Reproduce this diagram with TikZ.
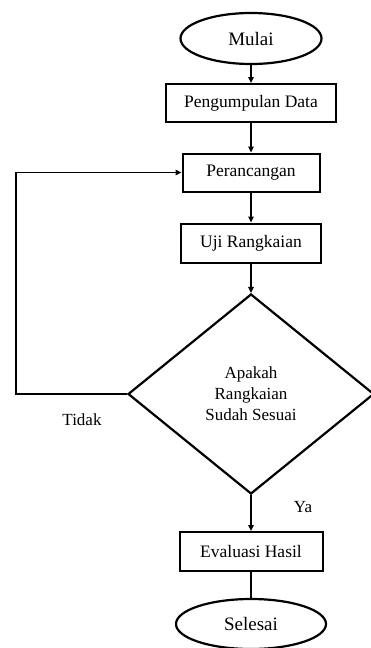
\documentclass[tikz,border=0pt]{standalone}
\usepackage{fontspec}
\setmainfont{Liberation Serif}
\usetikzlibrary{shapes.geometric,arrows.meta}
\begin{document}
\begin{tikzpicture}[x=1pt,y=-1pt,
  term/.style={draw,ellipse,line width=2.2pt,inner sep=0pt,font=\fontsize{19}{22}\selectfont},
  proc/.style={draw,rectangle,line width=2pt,inner sep=0pt,font=\fontsize{17.5}{21}\selectfont},
  dec/.style={draw,diamond,line width=2.2pt,inner sep=0pt,align=center,font=\fontsize{17}{21}\selectfont},
  arr/.style={line width=1.3pt,-{Triangle[length=6pt,width=5.5pt]}},
  ln/.style={line width=1.3pt},
  lbl/.style={font=\fontsize{17}{20}\selectfont,inner sep=0pt}]
\path[use as bounding box] (0,0) rectangle (370,648);
\node[term,minimum width=141pt,minimum height=51pt] (mulai) at (251,38.5) {Mulai};
\node[proc,minimum width=170pt,minimum height=38pt] (peng) at (251,103) {Pengumpulan Data};
\node[proc,minimum width=137pt,minimum height=38pt] (per) at (251,172.5) {Perancangan};
\node[proc,minimum width=140pt,minimum height=39pt] (uji) at (251,243) {Uji Rangkaian};
\node[dec,minimum width=246pt,minimum height=200pt] (cek) at (251,394) {Apakah\\Rangkaian\\Sudah Sesuai};
\node[proc,minimum width=143pt,minimum height=39pt] (eval) at (251,551.5) {Evaluasi Hasil};
\node[term,minimum width=150pt,minimum height=50pt] (selesai) at (251,624) {Selesai};
\coordinate (kiri) at (16,394);
\draw[arr] (mulai.south) -- (peng.north);
\draw[arr] (peng.south) -- (per.north);
\draw[arr] (per.south) -- (uji.north);
\draw[arr] (uji.south) -- (cek.north);
\draw[arr] (cek.south) -- (eval.north);
\draw[ln] (eval.south) -- (selesai.north);
\draw[arr] (cek.west) -- (kiri) |- (per.west);
\node[lbl] (tidak) at (82,420) {Tidak};
\node[lbl] (ya) at (303,507) {Ya};
\end{tikzpicture}
\end{document}
